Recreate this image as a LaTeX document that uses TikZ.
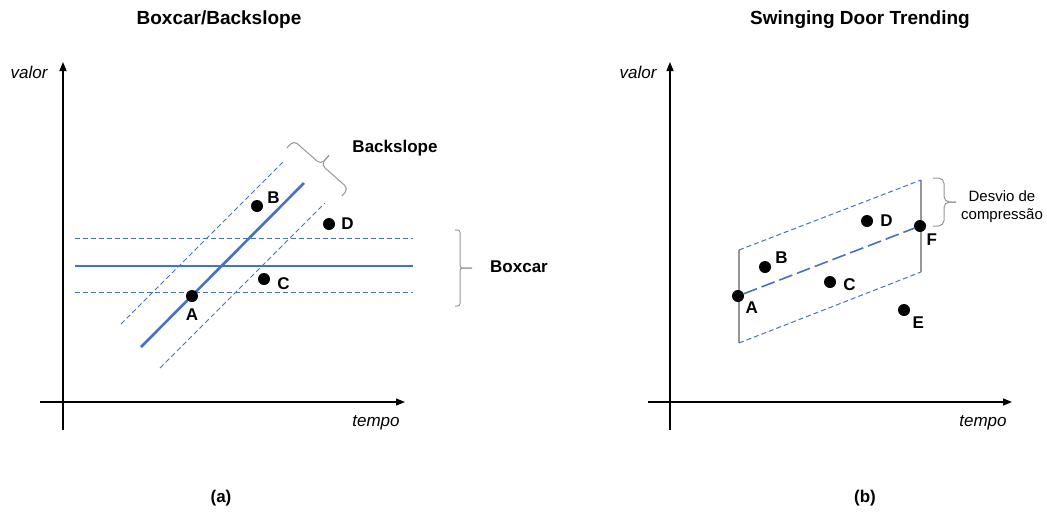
\documentclass[tikz,border=0pt]{standalone}
\usepackage{fontspec}
\setmainfont{Liberation Sans}
\usepackage{tikz}
\usetikzlibrary{arrows.meta,positioning}

\definecolor{lineblue}{RGB}{68,114,196}
\definecolor{bracegray}{RGB}{150,150,150}

\begin{document}
\begin{tikzpicture}[x=1pt,y=-1pt,
		axis/.style={line width=1.3pt, -{Triangle[length=9pt,width=7pt]}},
		dot/.style={circle, fill=black, inner sep=0pt, minimum size=12pt},
		lbl/.style={inner sep=0pt, font=\fontsize{17}{20}\selectfont\bfseries},
		title/.style={inner sep=0pt, font=\fontsize{19}{22}\selectfont\bfseries},
		axlbl/.style={inner sep=0pt, font=\fontsize{17}{20}\selectfont\itshape},
		mainline/.style={lineblue, line width=2.6pt},
		band/.style={lineblue, line width=1pt, dash pattern=on 5pt off 3pt},
		trend/.style={lineblue, line width=1.6pt, dash pattern=on 14pt off 5pt},
		door/.style={bracegray, line width=1.4pt},
		% curly bracket: half height, hook size (tip points along +x)
		pics/curly/.style 2 args={code={
			\draw[bracegray, line width=1pt, rounded corners=#2*0.5pt]
				(-#2,-#1) -- (0,-#1) -- (0,0) -- (12,0);
			\draw[bracegray, line width=1pt, rounded corners=#2*0.5pt]
				(-#2,#1) -- (0,#1) -- (0,0) -- (12,0);
		}}]
	\useasboundingbox (0,0) rectangle (1047,515);

	% ---------- (a) Boxcar / Backslope ----------
	\node[title] (ta) at (219,20) {Boxcar/Backslope};
	\coordinate (ya0) at (63,430);
	\coordinate (ya1) at (63,62);
	\coordinate (xa0) at (40,402);
	\coordinate (xa1) at (405,402);
	\draw[axis] (ya0) -- (ya1);
	\draw[axis] (xa0) -- (xa1);
	\node[axlbl] (va) at (29,72) {valor};
	\node[axlbl] (tpa) at (376,423) {tempo};

	% boxcar band
	\coordinate (bx0) at (75,266);    \coordinate (bx1) at (413,266);
	\coordinate (bu0) at (75,238.5);  \coordinate (bu1) at (413,238.5);
	\coordinate (bl0) at (75,292.5);  \coordinate (bl1) at (413,292.5);
	\draw[band] (bu0) -- (bu1);
	\draw[band] (bl0) -- (bl1);
	\draw[mainline] (bx0) -- (bx1);

	% backslope band
	\coordinate (s0) at (141,347);  \coordinate (s1) at (304,183);
	\coordinate (su0) at (121,324); \coordinate (su1) at (285,160);
	\coordinate (sl0) at (160,368); \coordinate (sl1) at (325,203);
	\draw[band] (su0) -- (su1);
	\draw[band] (sl0) -- (sl1);
	\draw[mainline] (s0) -- (s1);

	\node[dot] (A) at (192,296) {};
	\node[dot] (B) at (257,206) {};
	\node[dot] (C) at (264,279) {};
	\node[dot] (D) at (329,224) {};
	\node[lbl, below=6pt of A] (lA) {A};
	\node[lbl, right=4pt of B, yshift=8.5pt] (lB) {B};
	\node[lbl, right=7pt of C, yshift=-4.5pt] (lC) {C};
	\node[lbl, right=6pt of D] (lD) {D};

	\pic[rotate=48.7] (kbr) at (321,164.5) {curly={36.5}{10}};
	\node[lbl] (kb) at (395,148) {Backslope};

	\pic (cbr) at (460,268) {curly={38}{5}};
	\node[lbl] (cb) at (519,267) {Boxcar};

	\node[lbl] (capa) at (221,498) {(a)};

	% ---------- (b) Swinging Door Trending ----------
	\node[title] (tb) at (860,20) {Swinging Door Trending};
	\coordinate (yb0) at (670,430);
	\coordinate (yb1) at (670,62);
	\coordinate (xb0) at (648,402);
	\coordinate (xb1) at (1012,402);
	\draw[axis] (yb0) -- (yb1);
	\draw[axis] (xb0) -- (xb1);
	\node[axlbl] (vb) at (638,72) {valor};
	\node[axlbl] (tpb) at (983,423) {tempo};

	% doors
	\coordinate (d0t) at (739,250); \coordinate (d0b) at (739,343);
	\coordinate (d1t) at (921,180); \coordinate (d1b) at (921,272);
	\draw[door] (d0t) -- (d0b);
	\draw[door] (d1t) -- (d1b);
	\draw[band] (d0t) -- (d1t);
	\draw[band] (d0b) -- (d1b);

	\node[dot] (pA) at (738,296) {};
	\node[dot] (pB) at (765,267) {};
	\node[dot] (pC) at (830,282) {};
	\node[dot] (pD) at (867,221) {};
	\node[dot] (pE) at (904,310) {};
	\node[dot] (pF) at (920,226) {};
	\draw[trend] (pA) -- (pF);

	\node[lbl, below right=1pt and 3pt of pA] (lpA) {A};
	\node[lbl, right=4pt of pB, yshift=9.5pt] (lpB) {B};
	\node[lbl, right=7pt of pC, yshift=-3pt] (lpC) {C};
	\node[lbl, right=7pt of pD] (lpD) {D};
	\node[lbl, below right=2pt and 4pt of pE] (lpE) {E};
	\node[lbl, below right=3pt and 2pt of pF] (lpF) {F};

	\pic (ebr) at (944,202) {curly={24}{11}};
	\node[inner sep=0pt, align=center, font=\fontsize{15}{18}\selectfont] (dv) at (1002,207) {Desvio de\\compressão};

	\node[lbl] (capb) at (865,498) {(b)};
\end{tikzpicture}
\end{document}
